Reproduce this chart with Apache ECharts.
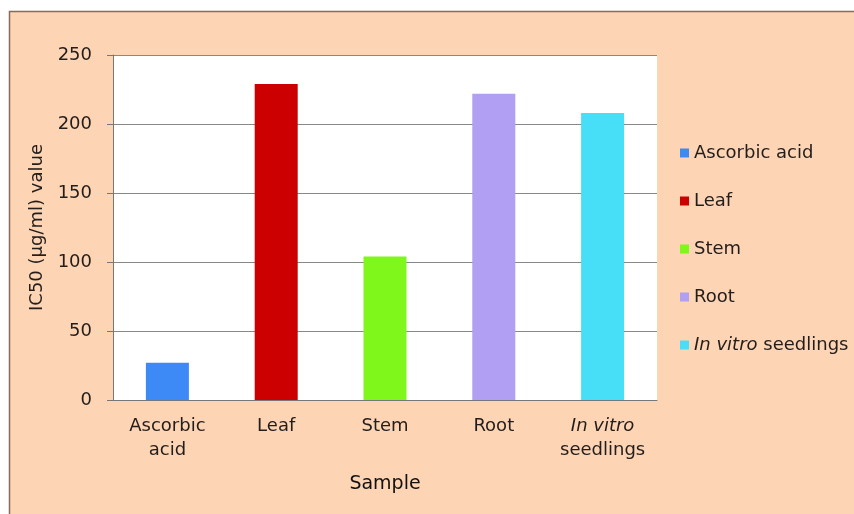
<!DOCTYPE html>
<html><head><meta charset="utf-8">
<script src="https://cdn.jsdelivr.net/npm/echarts@6/dist/echarts.min.js"></script>
<style>html,body{margin:0;padding:0;background:#fff}#c{width:854px;height:514px}</style>
</head><body><div id="c"></div>
<script>
var categories = ['Ascorbic acid', 'Leaf', 'Stem', 'Root', 'In vitro seedlings'];
var values = [27, 229, 104, 222, 208];
var colors = ['#3d8af7', '#cc0000', '#80f71a', '#b09ff2', '#47def8'];
var yTicks = [0, 50, 100, 150, 200, 250];

var FONT = 'DejaVu Sans';
var chart = echarts.init(document.getElementById('c'));
var series = categories.map(function (name, i) {
  return {
    name: name,
    type: 'bar',
    stack: 'all',
    barWidth: 43,
    itemStyle: { color: colors[i] },
    data: categories.map(function (c, j) { return j === i ? values[i] : null; })
  };
});
function rich(lh) {
  return {
    it: { fontStyle: 'italic', fontSize: 18, color: '#231d1b', fontFamily: FONT, lineHeight: lh },
    n: { fontSize: 18, color: '#231d1b', fontFamily: FONT, lineHeight: lh }
  };
}
chart.setOption({
  animation: false,
  graphic: [{
    type: 'rect', z: -10, silent: true,
    shape: { x: 9.5, y: 11.5, width: 860, height: 520 },
    style: { fill: '#fdd4b4', stroke: '#8a6a5a', lineWidth: 1.5 }
  }],
  grid: { left: 113, top: 55, right: 197, bottom: 114, show: true, backgroundColor: '#ffffff', borderWidth: 0 },
  legend: {
    orient: 'vertical', left: 675, top: 139, itemGap: 30,
    itemWidth: 9, itemHeight: 9, icon: 'rect',
    textStyle: { fontSize: 18, lineHeight: 18, color: '#231d1b', fontFamily: FONT, rich: rich(18) },
    formatter: function (n) {
      return n === 'In vitro seedlings' ? '{it|In vitro}{n| seedlings}' : n;
    },
    data: categories
  },
  xAxis: {
    type: 'category', data: categories,
    name: 'Sample', nameLocation: 'middle', nameGap: 75,
    nameTextStyle: { fontSize: 19, color: '#111', fontFamily: FONT },
    axisLine: { lineStyle: { color: '#777', width: 1 } },
    axisTick: { show: false },
    axisLabel: {
      fontSize: 18, color: '#231d1b', fontFamily: FONT, margin: 14, lineHeight: 24, interval: 0,
      rich: rich(24),
      formatter: function (v) {
        if (v === 'Ascorbic acid') return '{n|Ascorbic}\n{n|acid}';
        if (v === 'In vitro seedlings') return '{it|In vitro}\n{n|seedlings}';
        return '{n|' + v + '}';
      }
    }
  },
  yAxis: {
    type: 'value', min: yTicks[0], max: yTicks[yTicks.length - 1], interval: 50,
    name: 'IC50 (µg/ml) value', nameLocation: 'middle', nameGap: 66, nameRotate: 90,
    nameTextStyle: { fontSize: 18, color: '#231d1b', fontFamily: FONT },
    axisLine: { show: true, lineStyle: { color: '#777' } },
    axisTick: { show: true, length: 6, lineStyle: { color: '#777' } },
    axisLabel: { fontSize: 18, color: '#231d1b', fontFamily: FONT, margin: 21 },
    splitLine: { lineStyle: { color: '#888', width: 1 } }
  },
  series: series
});
</script></body></html>
